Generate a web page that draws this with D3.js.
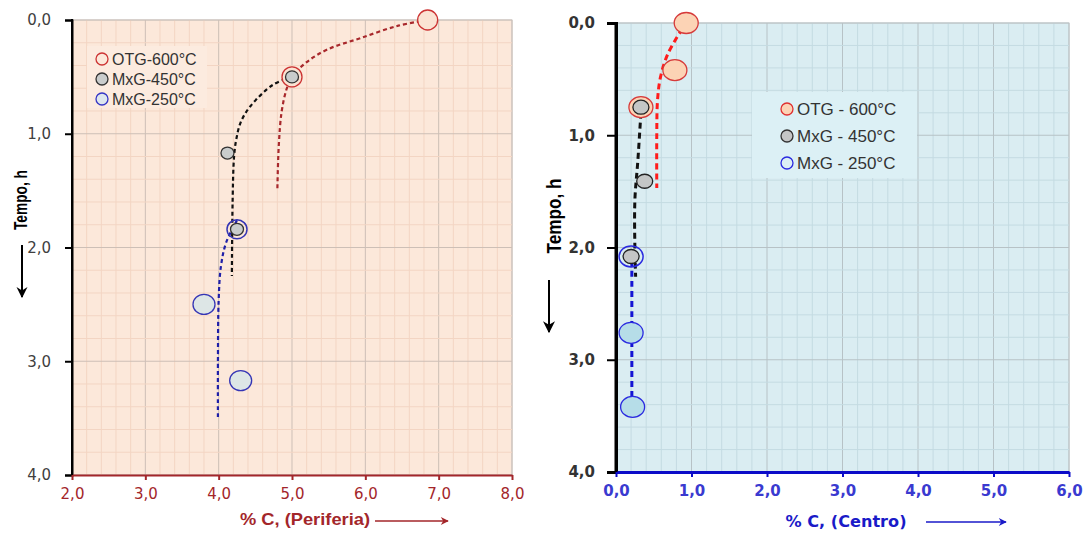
<!DOCTYPE html>
<html lang="pt">
<head>
<meta charset="UTF-8">
<title>Tempo x %C</title>
<style>
body { margin: 0; background: #fff; }
svg { display: block; }
</style>
</head>
<body>
<div class="chart"></div>
<script src="https://d3js.org/d3.v7.min.js"></script>
<script>
// ---- data ----
var yTicks = [0, 1, 2, 3, 4];
var xTicksPeri = [2, 3, 4, 5, 6, 7, 8];
var xTicksCentro = [0, 1, 2, 3, 4, 5, 6];
var legendPeri = ['OTG-600°C', 'MxG-450°C', 'MxG-250°C'];
var legendCentro = ['OTG - 600°C', 'MxG - 450°C', 'MxG - 250°C'];

// Periferia: markers [%C, tempo]
var otgPeri = [[6.85, 0.0], [5.0, 0.5]];
var mxg450Peri = [[5.0, 0.5], [4.12, 1.17], [4.25, 1.84]];
var mxg250Peri = [[4.25, 1.84], [3.8, 2.5], [4.3, 3.17]];
// Periferia: trend curves
var otgPeriFit = [[6.85, 0.0], [6.45, 0.05], [5.93, 0.16], [5.48, 0.26], [5.2, 0.37], [5.0, 0.5],
  [4.93, 0.6], [4.86, 0.8], [4.82, 1.1], [4.8, 1.5]];
var mxg450PeriFit = [[5.0, 0.5], [4.74, 0.57], [4.43, 0.76], [4.3, 0.9], [4.24, 1.05], [4.21, 1.2],
  [4.19, 1.6], [4.18, 2.25]];
var mxg250PeriFit = [[4.25, 1.76], [4.1, 1.96], [4.03, 2.17], [4.0, 2.46], [3.99, 3.0], [3.99, 3.49]];

// Centro: markers
var otgCentro = [[0.93, 0.0], [0.78, 0.42], [0.33, 0.75]];
var mxg450Centro = [[0.33, 0.75], [0.38, 1.41], [0.2, 2.08]];
var mxg250Centro = [[0.2, 2.08], [0.2, 2.76], [0.22, 3.42]];
// Centro: trend curves
var otgCentroFit = [[0.88, 0.05], [0.69, 0.27], [0.59, 0.48], [0.55, 0.69], [0.54, 1.0], [0.54, 1.47]];
var mxg450CentroFit = [[0.33, 0.8], [0.29, 1.22], [0.25, 1.58], [0.25, 2.0], [0.26, 2.26]];
var mxg250CentroFit = [[0.21, 2.12], [0.21, 2.6], [0.21, 3.0], [0.21, 3.36]];

var W = 1090, H = 540;
var svg = d3.select('.chart').append('svg')
  .attr('width', W).attr('height', H);
var defs = svg.append('defs');

var fmt = function (d) { return d3.format('.1f')(d).replace('.', ','); };
var tickFont = "'DejaVu Sans', sans-serif";

function panel(o) {
  var x = d3.scaleLinear().domain(o.xDomain).range([o.left, o.right]);
  var y = d3.scaleLinear().domain([0, 4]).range([o.top, o.bottom]);
  var g = svg.append('g');

  g.append('rect')
    .attr('x', o.left).attr('y', o.top)
    .attr('width', o.right - o.left).attr('height', o.bottom - o.top)
    .style('fill', o.bg).style('stroke', '#c8c8c8');

  // grid every 0.2, darker on whole units
  var xMinor = d3.range(o.xDomain[0] * 5, o.xDomain[1] * 5 + 1).map(function (d) { return d / 5; });
  var yMinor = d3.range(0, 21).map(function (d) { return d / 5; });
  var isMajor = function (d) { return Math.abs(d - Math.round(d)) < 1e-6; };
  g.selectAll('.vgrid').data(xMinor).enter().append('line')
    .attr('x1', function (d) { return x(d); }).attr('x2', function (d) { return x(d); })
    .attr('y1', o.top).attr('y2', o.bottom)
    .style('stroke', function (d) { return isMajor(d) ? o.gridMajor : o.gridMinor; });
  g.selectAll('.hgrid').data(yMinor).enter().append('line')
    .attr('y1', function (d) { return y(d); }).attr('y2', function (d) { return y(d); })
    .attr('x1', o.left).attr('x2', o.right)
    .style('stroke', function (d) { return isMajor(d) ? o.gridMajor : o.gridMinor; });

  // legend box hides the grid
  g.append('rect')
    .attr('x', o.legend.x).attr('y', o.legend.y)
    .attr('width', o.legend.w).attr('height', o.legend.h)
    .style('fill', o.legendBg);

  // y axis
  var yAxis = d3.axisLeft(y).tickValues(yTicks).tickFormat(fmt).tickSize(o.yTickSize).tickPadding(o.yPad);
  var ya = g.append('g').attr('transform', 'translate(' + o.left + ',0)').call(yAxis);
  ya.select('.domain').style('stroke', '#000').style('stroke-width', o.axisW);
  ya.selectAll('.tick line').style('stroke', '#000').style('stroke-width', 2);
  ya.selectAll('.tick text').style('font-family', tickFont).style('font-size', o.tickSize + 'px')
    .style('font-weight', o.tickWeight).style('fill', o.yTickColor);

  // x axis
  var xAxis = d3.axisBottom(x).tickValues(o.xTicks).tickFormat(fmt).tickSize(5).tickSizeOuter(0).tickPadding(8);
  var xa = g.append('g').attr('transform', 'translate(0,' + o.bottom + ')').call(xAxis);
  xa.select('.domain').style('stroke', o.xColor).style('stroke-width', o.axisW);
  xa.selectAll('.tick line').style('stroke', o.xColor).style('stroke-width', 2);
  xa.selectAll('.tick text').style('font-family', tickFont).style('font-size', o.tickSize + 'px')
    .style('font-weight', o.tickWeight).style('fill', o.xTickColor);
  g.append('line').attr('x1', o.left).attr('x2', o.left).attr('y1', o.top - 1).attr('y2', o.bottom)
    .style('stroke', '#000').style('stroke-width', o.axisW);

  // titles
  g.append('text')
    .attr('transform', 'translate(' + o.yTitle.x + ',' + o.yTitle.y + ') rotate(-90)')
    .attr('text-anchor', 'middle')
    .attr('textLength', o.yTitle.len).attr('lengthAdjust', 'spacingAndGlyphs')
    .style('font-family', 'Liberation Sans').style('font-weight', 'bold')
    .style('font-size', o.yTitle.size + 'px').style('fill', '#000')
    .text('Tempo, h');
  arrow(g, o.yArrow, '#000', o.id + 'y');

  g.append('text')
    .attr('x', o.xTitle.x).attr('y', o.xTitle.y)
    .attr('text-anchor', 'middle')
    .attr('textLength', o.xTitle.len).attr('lengthAdjust', 'spacingAndGlyphs')
    .style('font-family', o.xTitle.font).style('font-weight', 'bold')
    .style('font-size', o.xTitle.size + 'px').style('fill', o.xTitle.color)
    .text(o.xTitle.text);
  arrow(g, o.xArrow, o.xTitle.color, o.id + 'x');

  // trend curves
  var line = d3.line()
    .x(function (d) { return x(d[0]); })
    .y(function (d) { return y(d[1]); })
    .curve(d3.curveCatmullRom.alpha(0.5));
  o.curves.forEach(function (c) {
    g.append('path').datum(c.data).attr('d', line)
      .style('fill', 'none').style('stroke', c.color)
      .style('stroke-width', c.width).style('stroke-dasharray', c.dash);
  });

  // markers
  o.markers.forEach(function (m) {
    g.selectAll(null).data(m.data).enter().append('ellipse')
      .attr('cx', function (d) { return x(d[0]); })
      .attr('cy', function (d) { return y(d[1]); })
      .attr('rx', m.rx).attr('ry', m.ry)
      .style('fill', m.fill).style('stroke', m.stroke).style('stroke-width', 1.3);
  });
  // outline ring drawn over a point shared with the previous series
  if (o.ring) {
    g.append('ellipse').attr('cx', x(o.ring.pt[0])).attr('cy', y(o.ring.pt[1]))
      .attr('rx', o.ring.rx).attr('ry', o.ring.ry)
      .style('fill', 'none').style('stroke', o.ring.stroke).style('stroke-width', 1.5);
  }

  // legend entries
  o.legendItems.forEach(function (it, i) {
    var ly = o.legend.y0 + i * o.legend.dy;
    g.append('circle').attr('cx', o.legend.cx).attr('cy', ly).attr('r', 6)
      .style('fill', it.fill).style('stroke', it.stroke).style('stroke-width', 1.3);
    g.append('text').attr('x', o.legend.cx + 10).attr('y', ly + 6)
      .style('font-family', 'Liberation Sans').style('font-size', o.legend.size + 'px').style('fill', '#333')
      .text(it.label);
  });
}

function arrow(g, a, color, id) {
  defs.append('marker')
    .attr('id', 'ah' + id).attr('viewBox', '0 0 10 10')
    .attr('refX', 9).attr('refY', 5)
    .attr('markerWidth', a[4]).attr('markerHeight', a[5])
    .attr('markerUnits', 'userSpaceOnUse')
    .attr('orient', 'auto')
    .append('path').attr('d', 'M0,0 L10,5 L0,10 L3,5 Z').style('fill', color);
  g.append('line').attr('x1', a[0]).attr('y1', a[1]).attr('x2', a[2]).attr('y2', a[3])
    .style('stroke', color).style('stroke-width', a[6])
    .attr('marker-end', 'url(#ah' + id + ')');
}

// ---- left panel: Periferia ----
panel({
  id: 'p',
  xDomain: [2, 8], xTicks: xTicksPeri,
  left: 72, right: 512, top: 20, bottom: 475,
  bg: '#fce8da', gridMinor: '#f3d5c3', gridMajor: '#cdbfb6', legendBg: '#fcebdf',
  legend: { x: 87, y: 46, w: 120, h: 62, cx: 102, y0: 59, dy: 20, size: 16 },
  axisW: 2, yTickSize: 7, yPad: 14, tickWeight: 'normal', tickSize: 15,
  yTickColor: '#404040', xColor: '#a3262a', xTickColor: '#a3262a',
  yTitle: { x: 27, y: 200, size: 18, len: 60 },
  yArrow: [22, 245, 22, 297, 11, 13, 2],
  xTitle: { x: 305, y: 525, size: 17, len: 130, text: '% C, (Periferia)', color: '#a3262a', font: 'Liberation Sans' },
  xArrow: [375, 521, 448, 521, 12, 8, 1.6],
  curves: [
    { data: otgPeriFit, color: '#a8282c', width: 2.2, dash: '4,3' },
    { data: mxg450PeriFit, color: '#111', width: 2.2, dash: '4,3' },
    { data: mxg250PeriFit, color: '#1f1fa8', width: 2.2, dash: '4,3' }
  ],
  markers: [
    { data: otgPeri, rx: 10, ry: 10, fill: '#fbe3d3', stroke: '#cc3333' },
    { data: mxg450Peri, rx: 6.5, ry: 6, fill: '#c9cccc', stroke: '#333' },
    { data: mxg250Peri.slice(1), rx: 11, ry: 10, fill: '#dde6e6', stroke: '#3535b5' }
  ],
  ring: { pt: mxg250Peri[0], rx: 10, ry: 9.5, stroke: '#3535b5' },
  legendItems: [
    { label: legendPeri[0], fill: '#fce8da', stroke: '#cc3333' },
    { label: legendPeri[1], fill: '#c9cccc', stroke: '#333' },
    { label: legendPeri[2], fill: '#dde6ee', stroke: '#3535c5' }
  ]
});

// ---- right panel: Centro ----
panel({
  id: 'c',
  xDomain: [0, 6], xTicks: xTicksCentro,
  left: 616, right: 1069, top: 23, bottom: 472,
  bg: '#daedf2', gridMinor: '#c4dbe2', gridMajor: '#b7c2c6', legendBg: '#dcf0f5',
  legend: { x: 752, y: 92, w: 165, h: 86, cx: 787, y0: 109, dy: 27, size: 17 },
  axisW: 3, yTickSize: 9, yPad: 12, tickWeight: 'bold', tickSize: 15,
  yTickColor: '#333', xColor: '#0b0bc8', xTickColor: '#3a3ad0',
  yTitle: { x: 561, y: 216, size: 20, len: 75 },
  yArrow: [549, 280, 549, 332, 12, 14, 2],
  xTitle: { x: 846, y: 527, size: 16.5, len: 121, text: '% C, (Centro)', color: '#1a1ac8', font: 'DejaVu Sans' },
  xArrow: [926, 522, 1006, 522, 14, 8, 1.6],
  curves: [
    { data: otgCentroFit, color: '#ff1c1c', width: 3, dash: '6,4' },
    { data: mxg450CentroFit, color: '#111', width: 3, dash: '6,4' },
    { data: mxg250CentroFit, color: '#1414d4', width: 3, dash: '6,4' }
  ],
  markers: [
    { data: otgCentro, rx: 12, ry: 10.5, fill: '#fcd3b5', stroke: '#d63a3a' },
    { data: mxg450Centro, rx: 8, ry: 7, fill: '#c4c6c6', stroke: '#222' },
    { data: mxg250Centro.slice(1), rx: 12, ry: 10.5, fill: '#b6dde8', stroke: '#2a2ae0' }
  ],
  ring: { pt: mxg250Centro[0], rx: 12, ry: 10.5, stroke: '#2a2ae0' },
  legendItems: [
    { label: legendCentro[0], fill: '#fcd3b5', stroke: '#e03030' },
    { label: legendCentro[1], fill: '#c4c6c6', stroke: '#333' },
    { label: legendCentro[2], fill: '#dcf0f5', stroke: '#2a2ae0' }
  ]
});
</script>
</body>
</html>
